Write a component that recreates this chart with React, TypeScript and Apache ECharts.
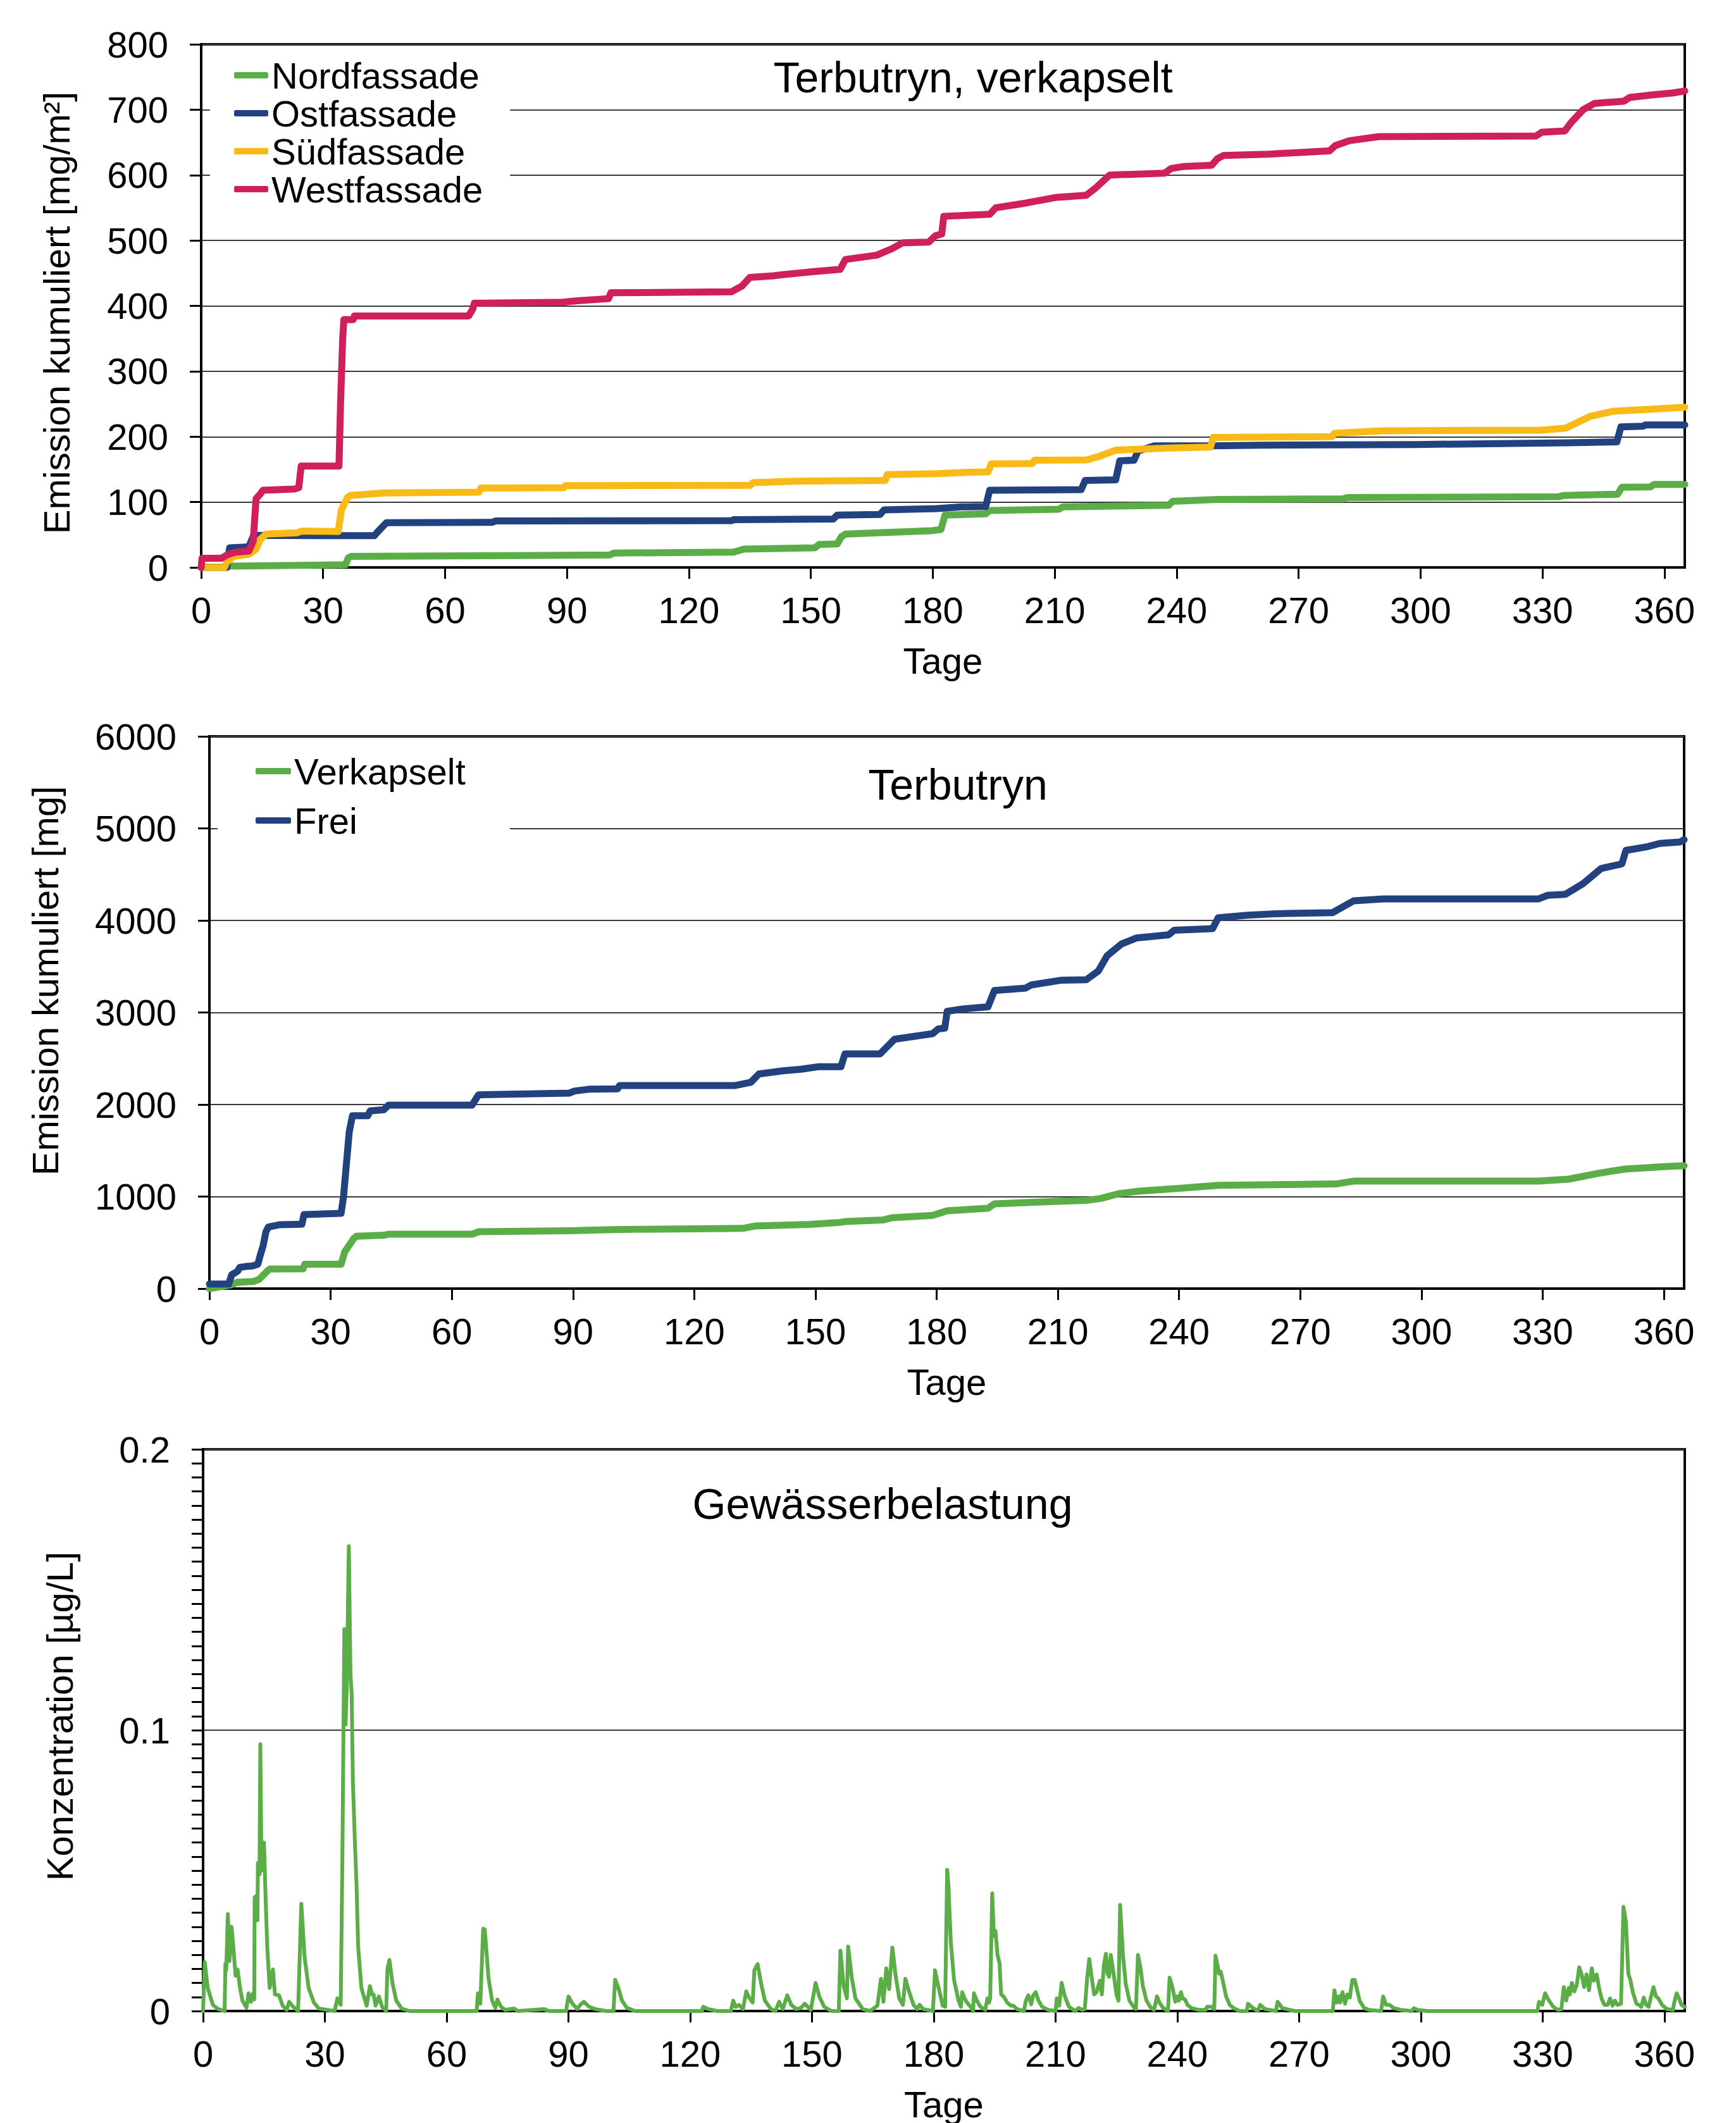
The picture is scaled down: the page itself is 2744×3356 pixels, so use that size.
import React, { useEffect, useRef } from "react";
import * as echarts from "echarts";

// ---------- shared tick labels ----------
const dayTicks = [0, 30, 60, 90, 120, 150, 180, 210, 240, 270, 300, 330, 360];
const xAxisTitle = "Tage";

// ---------- Chart 1: Terbutryn, verkapselt (mg/m²) ----------
const chart1Title = "Terbutryn, verkapselt";
const chart1YName = "Emission kumuliert [mg/m²]";
const facadeNames = ["Nordfassade", "Ostfassade", "Südfassade", "Westfassade"];

const nordfassade = [
  [0, 0], [6.3, 0], [6.5, 2], [35.5, 4], [36.2, 15], [37, 17], [72, 18], [100.5, 19], [101.5, 22],
  [131, 23.5], [133.5, 28], [151, 30], [152, 35], [156.5, 36], [157.5, 47], [158.5, 51], [179.5, 56],
  [182, 58], [183, 80], [193, 82], [194, 87], [211, 89], [212, 92.6], [238, 95], [239, 101], [250, 104],
  [281, 105], [282, 107], [334, 108], [335, 110], [348.5, 112], [349.5, 122.5], [356.5, 123], [357.5, 127],
  [365, 127],
];
const ostfassade = [
  [0, 0], [6.3, 0], [7, 30], [11.7, 31.5], [12.9, 49], [42.6, 48.5], [43.5, 55], [45.6, 68.5], [71.5, 69],
  [72.5, 71], [130.5, 71.5], [131, 73], [155.5, 74], [156.5, 80], [167, 81], [168, 88], [181, 90],
  [187, 92.6], [193, 93], [194, 118], [216.5, 119], [217.5, 133], [225, 134], [226, 163], [229.5, 164],
  [230.5, 178], [234.5, 186], [249, 186], [260.7, 187], [298.8, 188], [335.7, 190.5], [348.3, 192],
  [349.3, 215], [354.8, 216], [355.3, 218], [365, 218],
];
const suedfassade = [
  [0, 0], [5.7, 0], [6.3, 8], [8, 17], [11.7, 20], [13.5, 28], [14.5, 43], [16, 51], [23.5, 53],
  [24.8, 55.6], [33.7, 55], [34.5, 88], [36, 107], [36.7, 110], [45, 114], [68.3, 115], [68.8, 121.5],
  [89.2, 122], [89.6, 125], [135, 125.5], [135.8, 129.6], [147, 132], [168.3, 133], [168.8, 142],
  [181, 143.4], [189, 145.6], [193.6, 146], [194.4, 158.5], [204.5, 159], [205, 164], [217.9, 164.5],
  [221, 170], [225, 179.4], [238, 182.6], [248.3, 184], [249, 198.7], [278.2, 200], [278.8, 205],
  [290.5, 209], [329.8, 210], [335.7, 213], [341.7, 231], [347.6, 239], [357, 242], [365, 245],
];
const westfassade = [
  [0, 0], [0.2, 14], [5, 14], [6.5, 19.6], [8.5, 23.5], [11.7, 25], [12.8, 40], [13.5, 105], [14.5, 112],
  [15.2, 118], [23, 120], [24, 122], [24.6, 155], [33.9, 155], [34.3, 253], [34.8, 348], [35.1, 379],
  [37.4, 379], [37.7, 384.5], [65.8, 384.5], [66.8, 395], [67.2, 404], [88.8, 405.6], [93, 408],
  [100.2, 411], [100.8, 420], [130.4, 421.5], [133, 430], [135, 443.5], [140.8, 446], [143, 447.6],
  [150, 452], [157.2, 455.8], [158.5, 471], [166.2, 477.5], [170, 487.6], [172.6, 496.5], [179, 497.5],
  [180.6, 507], [182.2, 510], [182.7, 537], [194, 540], [195.5, 550], [202.7, 557], [210.5, 566],
  [217.7, 569], [220, 580], [223.5, 600], [237, 603], [238.6, 610], [241.5, 613], [248.6, 615],
  [250, 625], [251.5, 630], [262.5, 632], [277.6, 637], [279, 645], [282.5, 652.6], [289.7, 658.7],
  [328.4, 659.7], [329.8, 665.5], [335.5, 667.5], [337, 680], [340, 700], [342.8, 709.6], [350, 713],
  [351.5, 718.7], [357, 722.6], [362, 725.5], [365, 728.6],
];

// ---------- Chart 2: Terbutryn (mg) ----------
const chart2Title = "Terbutryn";
const chart2YName = "Emission kumuliert [mg]";
const variantNames = ["Verkapselt", "Frei"];

const verkapselt = [
  [0, 0], [5.3, 40], [6.9, 68], [11, 78], [12.3, 100], [14.5, 199], [15, 213], [23.2, 215], [23.6, 265],
  [32.6, 265], [33.5, 400], [35.7, 543], [36.4, 568], [43.2, 580], [44.3, 591], [65, 591], [66.6, 618],
  [89, 629], [101.5, 643], [132, 654], [135, 680], [148.7, 697], [156, 719], [157.3, 728], [166.7, 745],
  [168.9, 770], [179, 795], [182.6, 845], [192.7, 873], [194.3, 921], [209, 946], [217, 958],
  [220.7, 980], [225, 1031], [230, 1058], [239.5, 1087], [249.7, 1122], [278.8, 1137], [283.2, 1168],
  [329, 1168], [336.4, 1189], [344.5, 1258], [350.4, 1299], [360.6, 1326], [365, 1335],
];
const frei = [
  [0, 50], [4.8, 50], [5.5, 150], [7, 190], [7.5, 230], [9, 240], [10.6, 245], [12, 265], [12.5, 350],
  [13.3, 467], [14, 620], [14.6, 669], [17.3, 694], [22.9, 700], [23.4, 804], [32.6, 818], [33.2, 1000],
  [33.8, 1299], [34.6, 1700], [35.4, 1878], [39.2, 1878], [39.8, 1931], [43.2, 1944], [44.3, 1993],
  [65, 1993], [66.6, 2105], [89, 2123], [90.4, 2147], [93.9, 2166], [101, 2170], [101.5, 2206],
  [130, 2206], [134, 2241], [136, 2332], [142.2, 2368], [146.4, 2383], [150.6, 2410], [156.3, 2410],
  [157.3, 2550], [166, 2550], [169.6, 2710], [179, 2770], [180.4, 2821], [182, 2830], [182.6, 3012],
  [186.2, 3037], [192.7, 3062], [194.3, 3239], [202, 3264], [203.4, 3299], [210.7, 3350], [217, 3355],
  [220, 3450], [222.2, 3617], [225.7, 3743], [229.4, 3809], [237.4, 3844], [238.8, 3894], [248.3, 3911],
  [249.7, 4030], [257, 4056], [264, 4073], [278, 4085], [283.2, 4213], [290.5, 4234], [329, 4234],
  [331.3, 4274], [335.6, 4284], [340, 4400], [344.5, 4565], [349.6, 4615], [350.6, 4761], [356, 4802],
  [359, 4837], [364, 4852], [365, 4877],
];

// ---------- Chart 3: Gewässerbelastung (µg/L) ----------
const chart3Title = "Gewässerbelastung";
const chart3YName = "Konzentration [µg/L]";
const konzentration = [
  [0, 0], [0.4, 0.0174], [1.15, 0.0082], [2.4, 0.0022], [3.7, 0.0007], [5.3, 0],
  [5.5, 0.0167], [5.7, 0.0145], [6.1, 0.0345], [6.5, 0.0178], [7.0, 0.03], [7.4, 0.0237], [8.0, 0.0126],
  [8.5, 0.0148], [9.1, 0.0082], [9.7, 0.0037], [10.7, 0.0011], [11.2, 0.0063], [11.8, 0.0033],
  [12.3, 0.0063], [12.6, 0.0041], [12.7, 0.0404], [13.1, 0.041], [13.4, 0.0323], [13.5, 0.0527],
  [13.9, 0.0486], [14.1, 0.095], [14.4, 0.05], [14.8, 0.059], [15.0, 0.06], [15.3, 0.045], [15.8, 0.023],
  [16.4, 0.0082], [17.2, 0.0148], [17.7, 0.0059], [18.7, 0.0056], [19.6, 0.0019], [20.6, 0.0004],
  [21.2, 0.0033], [22.2, 0.0015], [23.4, 0], [24.2, 0.0382], [25.0, 0.0193], [26.0, 0.0082],
  [27.3, 0.003], [28.5, 0.0009], [32.4, 0], [33.1, 0.0045], [33.9, 0.0022], [34.3, 0.052], [34.8, 0.136],
  [35.1, 0.102], [35.4, 0.115], [35.9, 0.1655], [36.3, 0.12], [36.6, 0.113], [36.9, 0.082], [37.4, 0.06],
  [37.8, 0.045], [38.2, 0.023], [39.0, 0.0082], [40.3, 0.0019], [41.1, 0.0089], [41.6, 0.0059],
  [42.0, 0.0059], [42.5, 0.0019], [43.3, 0.0052], [44.1, 0.0015], [45.1, 0], [45.4, 0.0148],
  [45.9, 0.0182], [46.7, 0.0096], [47.6, 0.0037], [48.9, 0.0009], [50.8, 0],
  [67.4, 0], [67.7, 0.0063], [68.3, 0.0026], [69.0, 0.0293], [69.4, 0.029], [70.3, 0.0119],
  [71.2, 0.0037], [72.0, 0.0011], [72.5, 0.0041], [73.4, 0.0015], [74.4, 0.0004], [76.6, 0.0009],
  [77.6, 0], [84.0, 0.0007], [85.2, 0], [89.4, 0], [90.0, 0.0052], [91.0, 0.0026], [92.2, 0.0007],
  [92.9, 0.0022], [93.8, 0.0033], [95.1, 0.0015], [96.6, 0.0007], [99.3, 0], [101.1, 0], [101.5, 0.0111],
  [102.3, 0.0082], [103.2, 0.0037], [104.4, 0.0011], [106.5, 0], [122.9, 0], [123.2, 0.0015],
  [124.4, 0.0007], [126.7, 0], [130.0, 0], [130.6, 0.0037], [131.2, 0.0015], [132.0, 0.0022],
  [133.0, 0.0007], [133.8, 0.007], [134.5, 0.0048], [135.4, 0.003], [135.8, 0.0145], [136.6, 0.0167],
  [137.5, 0.0096], [138.4, 0.0037], [139.9, 0.0007], [141.0, 0], [141.9, 0.0033], [142.8, 0.0007],
  [143.9, 0.0056], [144.9, 0.0022], [146.1, 0.0007], [147.3, 0.0011], [148.2, 0.0026], [149.7, 0.0004],
  [150.9, 0.01], [151.8, 0.0052], [153.0, 0.0015], [154.8, 0], [156.6, 0], [157.0, 0.0215],
  [157.8, 0.0089], [158.6, 0.0045], [158.9, 0.023], [159.8, 0.0119], [160.7, 0.0045], [162.5, 0.0007],
  [164.3, 0], [166.1, 0.0019], [167.0, 0.0115], [167.6, 0.0033], [168.3, 0.0152], [169.0, 0.0078],
  [169.8, 0.0226], [170.6, 0.0126], [171.5, 0.0045], [172.4, 0.0022], [173.0, 0.0115], [173.9, 0.007],
  [175.0, 0.0022], [175.9, 0.0007], [176.5, 0.0022], [177.4, 0.0007], [179.8, 0], [180.3, 0.0145],
  [181.0, 0.0096], [182.2, 0.0019], [182.8, 0.0015], [183.3, 0.0503], [183.6, 0.045], [184.2, 0.0245],
  [185.0, 0.011], [186.1, 0.0037], [186.7, 0.0015], [187.0, 0.0067], [187.6, 0.0045], [188.2, 0.003],
  [189.1, 0.0015], [189.7, 0], [189.9, 0.0063], [190.6, 0.0037], [191.5, 0.0015], [192.7, 0.0004],
  [193.2, 0.0045], [193.6, 0.003], [193.9, 0.0045], [194.4, 0.0419], [194.8, 0.0267], [195.2, 0.0285],
  [195.7, 0.02], [196.2, 0.017], [196.6, 0.0059], [197.2, 0.0052], [198.1, 0.003], [199.0, 0.0019],
  [199.6, 0.0019], [200.5, 0.0007], [202.2, 0], [202.7, 0.0037], [203.3, 0.0056], [204.0, 0.0024],
  [204.5, 0.0056], [205.1, 0.0067], [205.8, 0.0037], [206.7, 0.0015], [208.2, 0.0004], [210.0, 0],
  [210.3, 0.0045], [210.9, 0.0019], [211.5, 0.01], [212.3, 0.0052], [213.3, 0.0015], [214.8, 0],
  [215.7, 0.0011], [216.6, 0.0004], [217.2, 0.0007], [217.8, 0.0119], [218.3, 0.0185], [218.9, 0.0119],
  [219.5, 0.0059], [220.1, 0.0067], [220.9, 0.0108], [221.4, 0.0059], [221.9, 0.0163], [222.4, 0.0204],
  [222.8, 0.0133], [223.2, 0.0122], [223.6, 0.02], [224.3, 0.0133], [225.0, 0.0059], [225.5, 0.0037],
  [225.9, 0.0378], [226.6, 0.02], [227.3, 0.0096], [228.2, 0.0037], [229.4, 0.0011], [229.8, 0.0007],
  [230.3, 0.02], [230.9, 0.0156], [231.5, 0.0089], [232.4, 0.0037], [233.3, 0.0015], [234.2, 0.0004],
  [234.5, 0.0019], [235.0, 0.0052], [235.6, 0.003], [236.5, 0.0011], [237.7, 0], [238.1, 0.0119],
  [238.9, 0.0078], [239.5, 0.0033], [240.0, 0.0052], [240.4, 0.0037], [240.9, 0.0067], [241.3, 0.0045],
  [241.9, 0.0041], [242.5, 0.0022], [243.4, 0.0011], [245.2, 0.0004], [247.0, 0.0004], [247.3, 0.0015],
  [248.5, 0.0015], [249.1, 0.0007], [249.4, 0.0197], [249.9, 0.0163], [250.3, 0.0133], [250.7, 0.014],
  [251.2, 0.0108], [252.0, 0.0052], [252.9, 0.0022], [253.8, 0.0011], [255.3, 0], [257.1, 0],
  [257.4, 0.0026], [258.6, 0.0011], [259.8, 0], [260.4, 0.0022], [261.6, 0.0007], [264.3, 0],
  [264.7, 0.0033], [265.8, 0.0011], [267.6, 0.0004], [269.0, 0], [278.3, 0], [278.7, 0.0074],
  [279.2, 0.003], [279.8, 0.0052], [280.1, 0.003], [280.7, 0.0067], [281.3, 0.0026], [281.9, 0.0059],
  [282.5, 0.0048], [283.1, 0.0111], [283.7, 0.0111], [284.3, 0.0074], [284.9, 0.0037], [286.0, 0.0011],
  [287.2, 0.0004], [290.2, 0], [290.7, 0.0052], [291.4, 0.0022], [292.3, 0.0022], [293.2, 0.0011],
  [295.0, 0.0004], [297.7, 0], [298.3, 0.001], [299.2, 0.0004], [301.6, 0], [328.7, 0], [329.1, 0.0033],
  [329.9, 0.0022], [330.6, 0.0063], [331.4, 0.0041], [332.6, 0.0015], [333.8, 0.0004], [334.6, 0.0007],
  [335.2, 0.0085], [335.8, 0.0037], [336.4, 0.0082], [336.7, 0.0059], [337.2, 0.01], [337.8, 0.007],
  [338.4, 0.0093], [339.0, 0.0156], [339.6, 0.013], [340.2, 0.0085], [340.8, 0.013], [341.4, 0.0074],
  [342.1, 0.0152], [342.6, 0.0108], [343.3, 0.013], [343.9, 0.0082], [344.5, 0.0045], [345.2, 0.0022],
  [346.0, 0.0022], [346.6, 0.0045], [347.2, 0.0019], [347.8, 0.0037], [348.4, 0.0022], [349.3, 0.0026],
  [349.9, 0.0371], [350.5, 0.0319], [351.1, 0.0133], [351.6, 0.0111], [352.2, 0.0067], [353.1, 0.0026],
  [353.7, 0.0022], [354.3, 0.0015], [354.9, 0.0048], [355.5, 0.0022], [356.1, 0.0015], [356.7, 0.0052],
  [357.3, 0.0085], [357.9, 0.0052], [358.5, 0.0045], [359.4, 0.0022], [360.6, 0.0007], [362.1, 0.0004],
  [362.4, 0.003], [363.0, 0.0063], [363.6, 0.0045], [364.2, 0.0022], [365, 0.0015],
];

// ---------- styling ----------
const FONT = "'Liberation Sans', Arial, Helvetica, sans-serif";
const GREEN = "#5BAE47";
const BLUE = "#21427F";
const YELLOW = "#F8BA16";
const MAGENTA = "#CF1F5D";
const LABEL_SIZE = 58;
const TITLE_SIZE = 68;
const CUM_WIDTH = 11;
const CONC_WIDTH = 6;

function makeXAxis(gridIndex: number) {
  return {
    type: "value",
    gridIndex,
    min: 0,
    max: 365,
    interval: 30,
    name: xAxisTitle,
    nameLocation: "middle",
    nameGap: 118,
    nameTextStyle: { fontSize: LABEL_SIZE, color: "#000", fontFamily: FONT },
    axisLine: { show: true, lineStyle: { color: "#000", width: 4 } },
    axisTick: { show: true, inside: false, length: 18, lineStyle: { color: "#000", width: 3 }, customValues: dayTicks },
    axisLabel: { show: true, margin: 38, fontSize: LABEL_SIZE, color: "#000", fontFamily: FONT, customValues: dayTicks },
    splitLine: { show: false },
  };
}

function makeYAxis(gridIndex: number, max: number, interval: number, name: string, nameGap: number, namePad: number[], minor = false) {
  return {
    type: "value",
    gridIndex,
    min: 0,
    max,
    interval,
    name,
    nameLocation: "middle",
    nameGap,
    nameTextStyle: { fontSize: LABEL_SIZE, color: "#000", fontFamily: FONT, padding: namePad },
    axisLine: { show: true, lineStyle: { color: "#000", width: 4 } },
    axisTick: { show: true, inside: false, length: 18, lineStyle: { color: "#000", width: 3 } },
    minorTick: minor
      ? { show: true, splitNumber: 20, length: 18, lineStyle: { color: "#000", width: 3 } }
      : { show: false },
    axisLabel: {
      margin: 52,
      fontSize: LABEL_SIZE,
      color: "#000",
      fontFamily: FONT,
      formatter: (v: number) => String(v),
    },
    splitLine: { show: true, lineStyle: { color: "#3a3a3a", width: 2 } },
  };
}

function lineSeries(name: string, data: number[][], color: string, idx: number, width: number) {
  return {
    type: "line",
    name,
    data,
    xAxisIndex: idx,
    yAxisIndex: idx,
    showSymbol: false,
    symbol: "none",
    silent: true,
    itemStyle: { color },
    lineStyle: { color, width, join: "round", cap: "round" },
  };
}

export default function App() {
  const ref = useRef<HTMLDivElement>(null);

  useEffect(() => {
    if (!ref.current) return;
    const chart = echarts.init(ref.current, null, { renderer: "svg" });
    const option: any = {
      animation: false,
      backgroundColor: "#fff",
      textStyle: { fontFamily: FONT, color: "#000" },
      title: [
        { text: chart1Title, left: 1538, top: 88, textAlign: "center", padding: 0,
          textStyle: { fontSize: TITLE_SIZE, fontWeight: "normal", color: "#000", fontFamily: FONT } },
        { text: chart2Title, left: 1514, top: 1206, textAlign: "center", padding: 0,
          textStyle: { fontSize: TITLE_SIZE, fontWeight: "normal", color: "#000", fontFamily: FONT } },
        { text: chart3Title, left: 1395, top: 2343, textAlign: "center", padding: 0,
          textStyle: { fontSize: TITLE_SIZE, fontWeight: "normal", color: "#000", fontFamily: FONT } },
      ],
      legend: [
        {
          data: facadeNames,
          orient: "vertical",
          left: 332,
          top: 80,
          itemGap: 0,
          itemWidth: 54,
          itemHeight: 10,
          icon: "roundRect",
          backgroundColor: "#fff",
          padding: [9, 43, 10, 38],
          selectedMode: false,
          textStyle: { fontSize: LABEL_SIZE, lineHeight: 60, color: "#000", fontFamily: FONT },
        },
        {
          data: variantNames,
          orient: "vertical",
          left: 344,
          top: 1179,
          itemGap: 18,
          itemWidth: 56,
          itemHeight: 10,
          icon: "roundRect",
          backgroundColor: "#fff",
          padding: [10, 70, 10, 60],
          selectedMode: false,
          textStyle: { fontSize: LABEL_SIZE, lineHeight: 60, color: "#000", fontFamily: FONT },
        },
      ],
      grid: [
        { left: 318, top: 70, width: 2345, height: 827, show: true, borderColor: "#000", borderWidth: 4, backgroundColor: "transparent" },
        { left: 331, top: 1164, width: 2331, height: 873, show: true, borderColor: "#000", borderWidth: 4, backgroundColor: "transparent" },
        { left: 321, top: 2291, width: 2342, height: 899, show: true, borderColor: "#000", borderWidth: 4, backgroundColor: "transparent" },
      ],
      xAxis: [makeXAxis(0), makeXAxis(1), makeXAxis(2)],
      yAxis: [
        makeYAxis(0, 800, 100, chart1YName, 200, [0, 22, 0, 0]),
        makeYAxis(1, 6000, 1000, chart2YName, 231, [0, 0, 0, 100]),
        makeYAxis(2, 0.2, 0.1, chart3YName, 198, [0, 0, 0, 44], true),
      ],
      series: [
        lineSeries(facadeNames[0], nordfassade, GREEN, 0, CUM_WIDTH),
        lineSeries(facadeNames[1], ostfassade, BLUE, 0, CUM_WIDTH),
        lineSeries(facadeNames[2], suedfassade, YELLOW, 0, CUM_WIDTH),
        lineSeries(facadeNames[3], westfassade, MAGENTA, 0, CUM_WIDTH),
        lineSeries(variantNames[0], verkapselt, GREEN, 1, CUM_WIDTH),
        lineSeries(variantNames[1], frei, BLUE, 1, CUM_WIDTH),
        lineSeries("Konzentration", konzentration, GREEN, 2, CONC_WIDTH),
      ],
    };
    chart.setOption(option);
    return () => chart.dispose();
  }, []);

  return (
    <div
      ref={ref}
      style={{ position: "absolute", left: 0, top: 0, width: 2744, height: 3356, background: "#fff" }}
    />
  );
}
